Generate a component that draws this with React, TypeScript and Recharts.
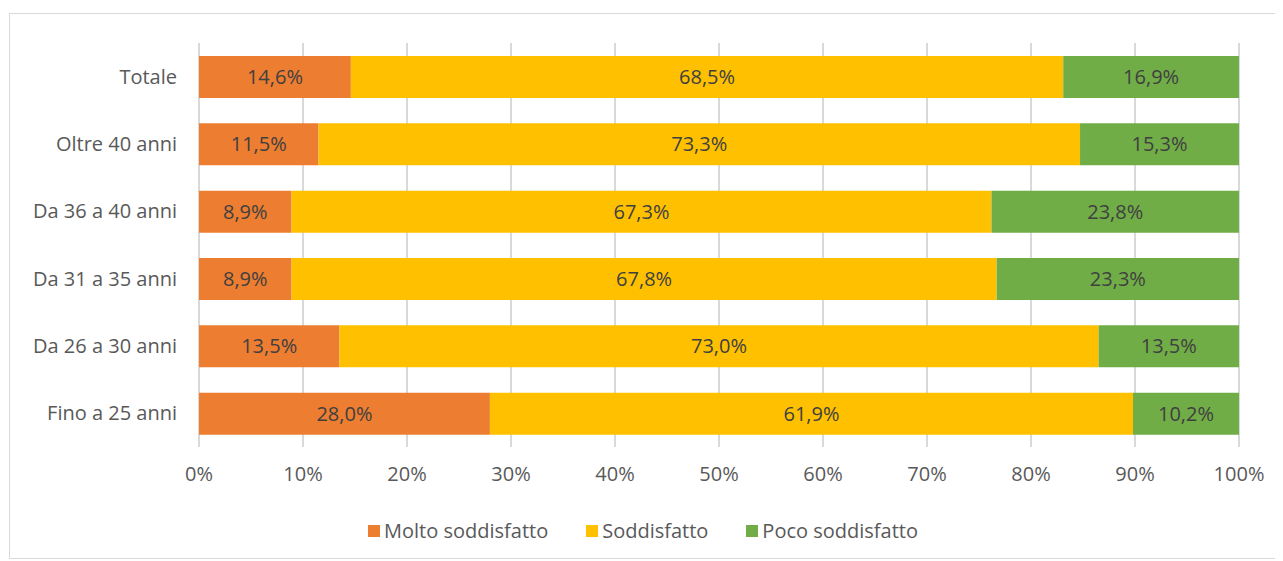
import React from "react";
import {
  BarChart,
  Bar,
  XAxis,
  YAxis,
  CartesianGrid,
  Legend,
  LabelList,
} from "recharts";

const categories = [
  "Totale",
  "Oltre 40 anni",
  "Da 36 a 40 anni",
  "Da 31 a 35 anni",
  "Da 26 a 30 anni",
  "Fino a 25 anni",
];
const molto = [14.6, 11.5, 8.9, 8.9, 13.5, 28.0];
const soddisfatto = [68.5, 73.3, 67.3, 67.8, 73.0, 61.9];
const poco = [16.9, 15.3, 23.8, 23.3, 13.5, 10.2];
const xTicks = [0, 0.1, 0.2, 0.3, 0.4, 0.5, 0.6, 0.7, 0.8, 0.9, 1];

const series = [
  { key: "molto", name: "Molto soddisfatto", color: "#ED7D31" },
  { key: "soddisfatto", name: "Soddisfatto", color: "#FFC000" },
  { key: "poco", name: "Poco soddisfatto", color: "#70AD47" },
];

const data = categories.map((c, i) => ({
  name: c,
  molto: molto[i],
  soddisfatto: soddisfatto[i],
  poco: poco[i],
}));

const FONT = "'Open Sans', sans-serif";
const FS = 20;

const fmt = (v: any) => `${Number(v).toFixed(1).replace(".", ",")}%`;

const LegendContent = () => (
  <div
    style={{
      display: "flex",
      justifyContent: "center",
      gap: 38,
      fontFamily: FONT,
      fontSize: FS,
      color: "#595959",
      lineHeight: "26px",
    }}
  >
    {series.map((s) => (
      <div key={s.key} style={{ display: "flex", alignItems: "center" }}>
        <span
          style={{
            display: "inline-block",
            width: 12,
            height: 12,
            background: s.color,
            marginRight: 4,
          }}
        />
        {s.name}
      </div>
    ))}
  </div>
);

export default function App() {
  return (
    <div
      style={{
        marginLeft: 1,
        marginTop: 5,
        width: 1268,
        height: 546,
        border: "1px solid #d9d9d9",
        boxSizing: "border-box",
        position: "relative",
      }}
    >
      <BarChart
        width={1266}
        height={544}
        data={data}
        layout="vertical"
        stackOffset="expand"
        barSize={42}
        margin={{ top: 29, right: 37, bottom: 0, left: 0 }}
      >
        <CartesianGrid horizontal={false} stroke="#d9d9d9" strokeWidth={2} />
        <XAxis
          type="number"
          domain={[0, 1]}
          ticks={xTicks}
          tickFormatter={(v: number) => `${Math.round(v * 100)}%`}
          axisLine={false}
          tickLine={false}
          tickSize={0}
          tickMargin={20}
          height={85}
          tick={{ fill: "#595959", fontSize: FS, fontFamily: FONT }}
          interval={0}
        />
        <YAxis
          type="category"
          dataKey="name"
          width={189}
          axisLine={false}
          tickLine={false}
          tickSize={0}
          tickMargin={22}
          tick={{ fill: "#595959", fontSize: FS, fontFamily: FONT }}
        />
        <Legend
          verticalAlign="bottom"
          content={<LegendContent />}
          wrapperStyle={{ top: 504, left: 0, width: 1266 }}
        />
        {series.map((s) => (
          <Bar
            key={s.key}
            dataKey={s.key}
            name={s.name}
            stackId="a"
            fill={s.color}
            isAnimationActive={false}
          >
            <LabelList
              dataKey={s.key}
              position="center"
              formatter={fmt}
              fill="#404040"
              fontSize={FS}
              fontFamily={FONT}
            />
          </Bar>
        ))}
      </BarChart>
    </div>
  );
}
